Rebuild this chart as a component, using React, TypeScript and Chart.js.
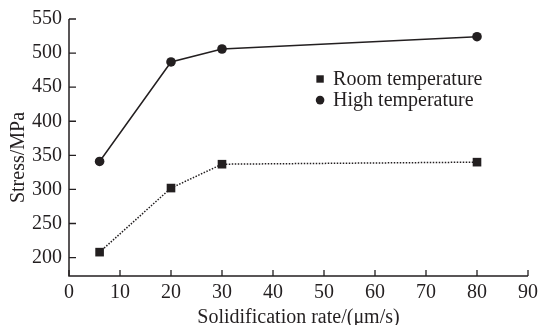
import React, { useEffect, useRef } from "react";
import { Chart, registerables } from "chart.js";

Chart.register(...registerables);

const rates = [6, 20, 30, 80];
const roomTemp = [208, 302, 337, 340];
const highTemp = [341, 487, 506, 524];
const xTicks = [0, 10, 20, 30, 40, 50, 60, 70, 80, 90];
const yTicks = [200, 250, 300, 350, 400, 450, 500, 550];
const seriesNames = ["Room temperature", "High temperature"];
const xTitle = "Solidification rate/(\u03bcm/s)";
const yTitle = "Stress/MPa";

const INK = "#231f20";
const FONT = "'Liberation Serif', 'Times New Roman', serif";

const axesPlugin = {
  id: "customAxes",
  afterDraw(chart: any) {
    const { ctx, chartArea } = chart;
    const xs = chart.scales.x;
    const ys = chart.scales.y;
    ctx.save();
    ctx.strokeStyle = INK;
    ctx.lineWidth = 1.5;
    ctx.beginPath();
    ctx.moveTo(chartArea.left, chartArea.top);
    ctx.lineTo(chartArea.left, chartArea.bottom);
    ctx.lineTo(chartArea.right, chartArea.bottom);
    ctx.stroke();
    ctx.lineWidth = 1.3;
    ctx.beginPath();
    xTicks.forEach((v) => {
      const px = xs.getPixelForValue(v);
      ctx.moveTo(px, chartArea.bottom);
      ctx.lineTo(px, chartArea.bottom - 6);
    });
    yTicks.forEach((v) => {
      const py = ys.getPixelForValue(v);
      ctx.moveTo(chartArea.left, py);
      ctx.lineTo(chartArea.left + 7, py);
    });
    ctx.stroke();

    // y title
    ctx.fillStyle = INK;
    ctx.font = "20px " + FONT;
    ctx.textAlign = "center";
    ctx.textBaseline = "middle";
    ctx.save();
    ctx.translate(19, (chartArea.top + chartArea.bottom) / 2 + 10);
    ctx.rotate(-Math.PI / 2);
    ctx.fillText(yTitle, 0, 0);
    ctx.restore();

    // legend
    const lx = chartArea.left + (chartArea.right - chartArea.left) * 0.547;
    const ly1 = ys.getPixelForValue(462);
    const ly2 = ys.getPixelForValue(431);
    ctx.fillRect(lx - 3.7, ly1 - 3.7, 7.4, 7.4);
    ctx.beginPath();
    ctx.arc(lx, ly2, 4.3, 0, Math.PI * 2);
    ctx.fill();
    ctx.textAlign = "left";
    ctx.font = "20px " + FONT;
    ctx.fillText(seriesNames[0], lx + 13, ly1 + 1);
    ctx.fillText(seriesNames[1], lx + 13, ly2 + 1);
    ctx.restore();
  },
};

export default function App() {
  const ref = useRef<HTMLCanvasElement>(null);
  useEffect(() => {
    const chart = new Chart(ref.current!, {
      type: "line",
      data: {
        datasets: [
          {
            label: seriesNames[0],
            data: rates.map((x, i) => ({ x, y: roomTemp[i] })),
            borderColor: INK,
            backgroundColor: INK,
            borderWidth: 1.5,
            borderDash: [1.5, 1.5],
            pointStyle: "rect",
            pointRadius: 6.1,
            pointBorderWidth: 0,
            tension: 0,
          },
          {
            label: seriesNames[1],
            data: rates.map((x, i) => ({ x, y: highTemp[i] })),
            borderColor: INK,
            backgroundColor: INK,
            borderWidth: 1.5,
            pointStyle: "circle",
            pointRadius: 4.8,
            pointBorderWidth: 0,
            tension: 0,
          },
        ],
      },
      options: {
        responsive: false,
        animation: false,
        layout: { padding: { top: 16, right: 13, left: 0, bottom: 0 } },
        plugins: { legend: { display: false }, tooltip: { enabled: false } },
        scales: {
          x: {
            type: "linear",
            min: 0,
            max: 90,
            grid: { display: false, drawTicks: false },
            border: { display: false },
            afterBuildTicks: (s: any) => {
              s.ticks = xTicks.map((v) => ({ value: v }));
            },
            afterFit: (s: any) => {
              s.height = 49;
            },
            ticks: {
              color: INK,
              font: { family: FONT, size: 20 },
              padding: 5,
              maxRotation: 0,
              autoSkip: false,
            },
            title: {
              display: true,
              text: xTitle,
              color: INK,
              font: { family: FONT, size: 20 },
              padding: { top: 0, bottom: -5 },
            },
          },
          y: {
            type: "linear",
            min: 173,
            max: 550,
            grid: { display: false, drawTicks: false },
            border: { display: false },
            afterBuildTicks: (s: any) => {
              s.ticks = yTicks.map((v) => ({ value: v }));
            },
            afterFit: (s: any) => {
              s.width = 69;
            },
            ticks: {
              color: INK,
              font: { family: FONT, size: 20 },
              padding: 7,
              autoSkip: false,
            },
          },
        },
      },
      plugins: [axesPlugin],
    } as any);
    return () => chart.destroy();
  }, []);
  return (
    <div style={{ position: "absolute", left: 0, top: 0, width: 543, height: 325, background: "#fff" }}>
      <canvas ref={ref} width={543} height={325} />
    </div>
  );
}
